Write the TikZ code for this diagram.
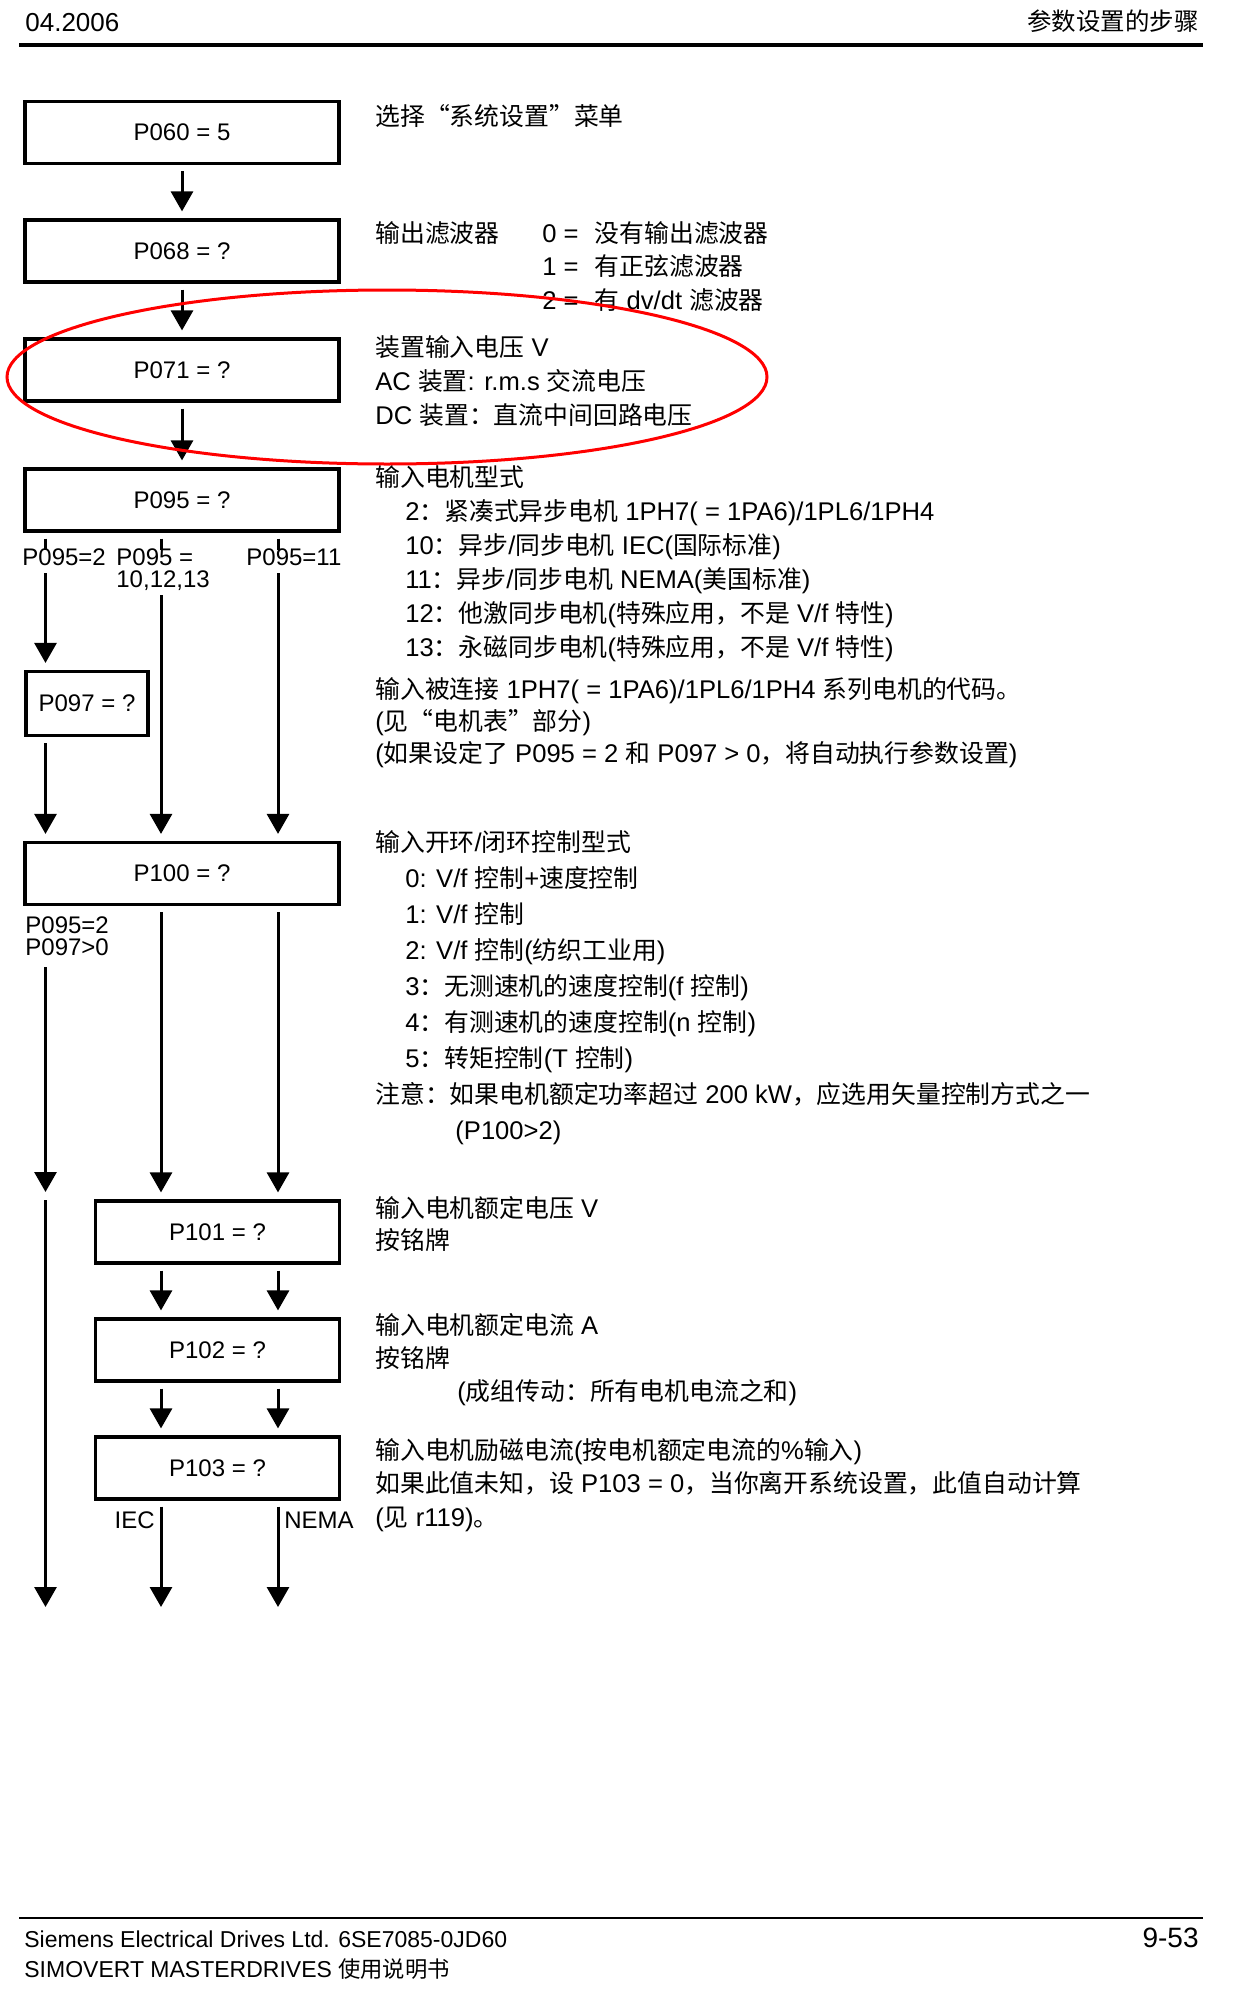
\documentclass[tikz,border=0pt]{standalone}
\usepackage{fontspec}
\setmainfont{Liberation Sans}
\newfontfamily\cjk[Scale=0.97]{Noto Sans CJK SC}
\newcommand{\zh}[1]{{\cjk #1}}
\usetikzlibrary{arrows.meta}

\begin{document}
\begin{tikzpicture}[x=0.5pt, y=-0.5pt,
    box/.style={draw=black, line width=1.6pt, inner sep=0pt, minimum width=157pt, minimum height=31pt, font=\fontsize{12}{14}\selectfont},
    flow/.style={line width=1.5pt, -{Triangle[width=11pt, length=10pt]}},
    stem/.style={line width=1.5pt},
    into/.style={shorten >=3.5pt},
    outof/.style={shorten <=3pt},
    tag/.style={inner sep=0pt, font=\fontsize{12}{11}\selectfont},
    note/.style={anchor=base west, inner sep=0pt, align=left, font=\fontsize{12.8}{17}\selectfont}]
    \useasboundingbox (0,0) rectangle (1232,1996);

    % page head
    \node[anchor=base west, inner sep=0pt, font=\fontsize{13}{15}\selectfont] (date) at (25,32) {04.2006};
    \node[anchor=base east, inner sep=0pt, font=\fontsize{12.6}{15}\selectfont] (title) at (1199,31) {\zh{参数设置的步骤}};
    \draw[line width=2pt] (19,45) -- (1203,45);

    % parameter boxes
    \node[box] (p060) at (182,132.5) {P060 = 5};
    \node[box] (p068) at (182,251) {P068 = ?};
    \node[box] (p071) at (182,370) {P071 = ?};
    \node[box] (p095) at (182,500) {P095 = ?};
    \node[box, minimum width=61pt, minimum height=32pt] (p097) at (87,703.5) {P097 = ?};
    \node[box] (p100) at (182,873.5) {P100 = ?};
    \node[box, minimum width=122pt] (p101) at (217.5,1232) {P101 = ?};
    \node[box, minimum width=122pt] (p102) at (217.5,1350) {P102 = ?};
    \node[box, minimum width=122pt] (p103) at (217.5,1468) {P103 = ?};

    % columns and free ends
    \coordinate (colA) at (45.5,0);
    \coordinate (colB) at (161,0);
    \coordinate (colC) at (278,0);
    \coordinate (tA) at (45.5,550);
    \coordinate (tB) at (161,550);
    \coordinate (tC) at (278,550);
    \coordinate (sA) at (45.5,573);
    \coordinate (sB) at (161,595);
    \coordinate (sC) at (278,573);
    \coordinate (uA) at (45.5,967);
    \coordinate (eA) at (45.5,1192);
    \coordinate (vA) at (45.5,1200);
    \coordinate (wA) at (45.5,1607);
    \coordinate (xB) at (161,1607);
    \coordinate (xC) at (278,1607);

    % branch labels
    \node[tag, anchor=base west] (l2) at (22,565) {P095=2};
    \node[tag, anchor=north west, align=left] (l10) at (116,548) {P095 =\\10,12,13};
    \node[tag, anchor=base west] (l11) at (246,565) {P095=11};
    \node[tag, anchor=north west, align=left] (lvec) at (25,916) {P095=2\\P097>0};
    \node[tag, anchor=base east] (liec) at (155,1528) {IEC};
    \node[tag, anchor=base west] (lnema) at (284,1528) {NEMA};

    % connectors
    \draw[flow, outof, into] (p060) -- (p068);
    \draw[flow, outof, into] (p068) -- (p071);
    \draw[flow, outof, into] (p071) -- (p095);
    \draw[stem, outof] (p095.south -| colA) -- (tA);
    \draw[stem, outof] (p095.south -| colB) -- (tB);
    \draw[stem, outof] (p095.south -| colC) -- (tC);
    \draw[flow, into] (sA) -- (p097.north -| colA);
    \draw[flow, into] (sB) -- (p100.north -| colB);
    \draw[flow, into] (sC) -- (p100.north -| colC);
    \draw[flow, outof, into] (p097.south -| colA) -- (p100.north -| colA);
    \draw[flow] (uA) -- (eA);
    \draw[flow, outof, into] (p100.south -| colB) -- (p101.north -| colB);
    \draw[flow, outof, into] (p100.south -| colC) -- (p101.north -| colC);
    \draw[flow] (vA) -- (wA);
    \draw[flow, outof, into] (p101.south -| colB) -- (p102.north -| colB);
    \draw[flow, outof, into] (p101.south -| colC) -- (p102.north -| colC);
    \draw[flow, outof, into] (p102.south -| colB) -- (p103.north -| colB);
    \draw[flow, outof, into] (p102.south -| colC) -- (p103.north -| colC);
    \draw[flow, outof] (p103.south -| colB) -- (xB);
    \draw[flow, outof] (p103.south -| colC) -- (xC);

    % explanations (a block is placed by the baseline of its last line)
    \node[note] (sel) at (375,126) {\zh{选择“系统设置”菜单}};
    \node[note] (filt) at (375,242) {\zh{输出滤波器}};
    \node[note, font=\fontsize{12.8}{16.75}\selectfont] (filtv) at (542,309) {0 =\hspace{8pt}\zh{没有输出滤波器}\\1 =\hspace{8pt}\zh{有正弦滤波器}\\2 =\hspace{8pt}\zh{有} dv/dt \zh{滤波器}};
    \node[note] (volt) at (375,424) {\zh{装置输入电压} V\\AC \zh{装置}: r.m.s \zh{交流电压}\\DC \zh{装置：直流中间回路电压}};
    \node[note] (mot) at (375,656) {\zh{输入电机型式}\\
        \hspace*{15pt}2\zh{：紧凑式异步电机} 1PH7( = 1PA6)/1PL6/1PH4\\
        \hspace*{15pt}10\zh{：异步}/\zh{同步电机} IEC(\zh{国际标准})\\
        \hspace*{15pt}11\zh{：异步}/\zh{同步电机} NEMA(\zh{美国标准})\\
        \hspace*{15pt}12\zh{：他激同步电机}(\zh{特殊应用，不是} V/f \zh{特性})\\
        \hspace*{15pt}13\zh{：永磁同步电机}(\zh{特殊应用，不是} V/f \zh{特性})};
    \node[note, font=\fontsize{12.8}{16}\selectfont] (code) at (375,762) {\zh{输入被连接} 1PH7( = 1PA6)/1PL6/1PH4 \zh{系列电机的代码。}\\(\zh{见“电机表”部分})\\(\zh{如果设定了} P095 = 2 \zh{和} P097 > 0\zh{，将自动执行参数设置})};
    \node[note, font=\fontsize{12.8}{18}\selectfont] (ctrl) at (375,1139) {\zh{输入开环}/\zh{闭环控制型式}\\
        \hspace*{15pt}0: V/f \zh{控制}+\zh{速度控制}\\
        \hspace*{15pt}1: V/f \zh{控制}\\
        \hspace*{15pt}2: V/f \zh{控制}(\zh{纺织工业用})\\
        \hspace*{15pt}3\zh{：无测速机的速度控制}(f \zh{控制})\\
        \hspace*{15pt}4\zh{：有测速机的速度控制}(n \zh{控制})\\
        \hspace*{15pt}5\zh{：转矩控制}(T \zh{控制})\\
        \zh{注意：如果电机额定功率超过} 200 kW\zh{，应选用矢量控制方式之一}\\
        \hspace*{40pt}(P100>2)};
    \node[note, font=\fontsize{12.8}{16}\selectfont] (uv) at (375,1249) {\zh{输入电机额定电压} V\\\zh{按铭牌}};
    \node[note, font=\fontsize{12.8}{16.5}\selectfont] (ua) at (375,1400) {\zh{输入电机额定电流} A\\\zh{按铭牌}\\\hspace*{41pt}(\zh{成组传动：所有电机电流之和})};
    \node[note, font=\fontsize{12.8}{16.75}\selectfont] (ue) at (375,1526) {\zh{输入电机励磁电流}(\zh{按电机额定电流的}\%\zh{输入})\\\zh{如果此值未知，设} P103 = 0\zh{，当你离开系统设置，此值自动计算}\\(\zh{见} r119)\zh{。}};

    % marking
    \draw[red, line width=1.5pt] (387,377) ellipse [x radius=190pt, y radius=43.5pt];

    % page foot
    \draw[line width=1.2pt] (19,1918) -- (1203,1918);
    \node[anchor=base west, inner sep=0pt, font=\fontsize{11.5}{14}\selectfont] (maker) at (24,1947) {Siemens Electrical Drives Ltd. 6SE7085-0JD60};
    \node[anchor=base west, inner sep=0pt, font=\fontsize{11.5}{14}\selectfont] (manual) at (24,1977) {SIMOVERT MASTERDRIVES \zh{使用说明书}};
    \node[anchor=base east, inner sep=0pt, font=\fontsize{14}{16}\selectfont] (page) at (1199,1947) {9-53};
\end{tikzpicture}
\end{document}
